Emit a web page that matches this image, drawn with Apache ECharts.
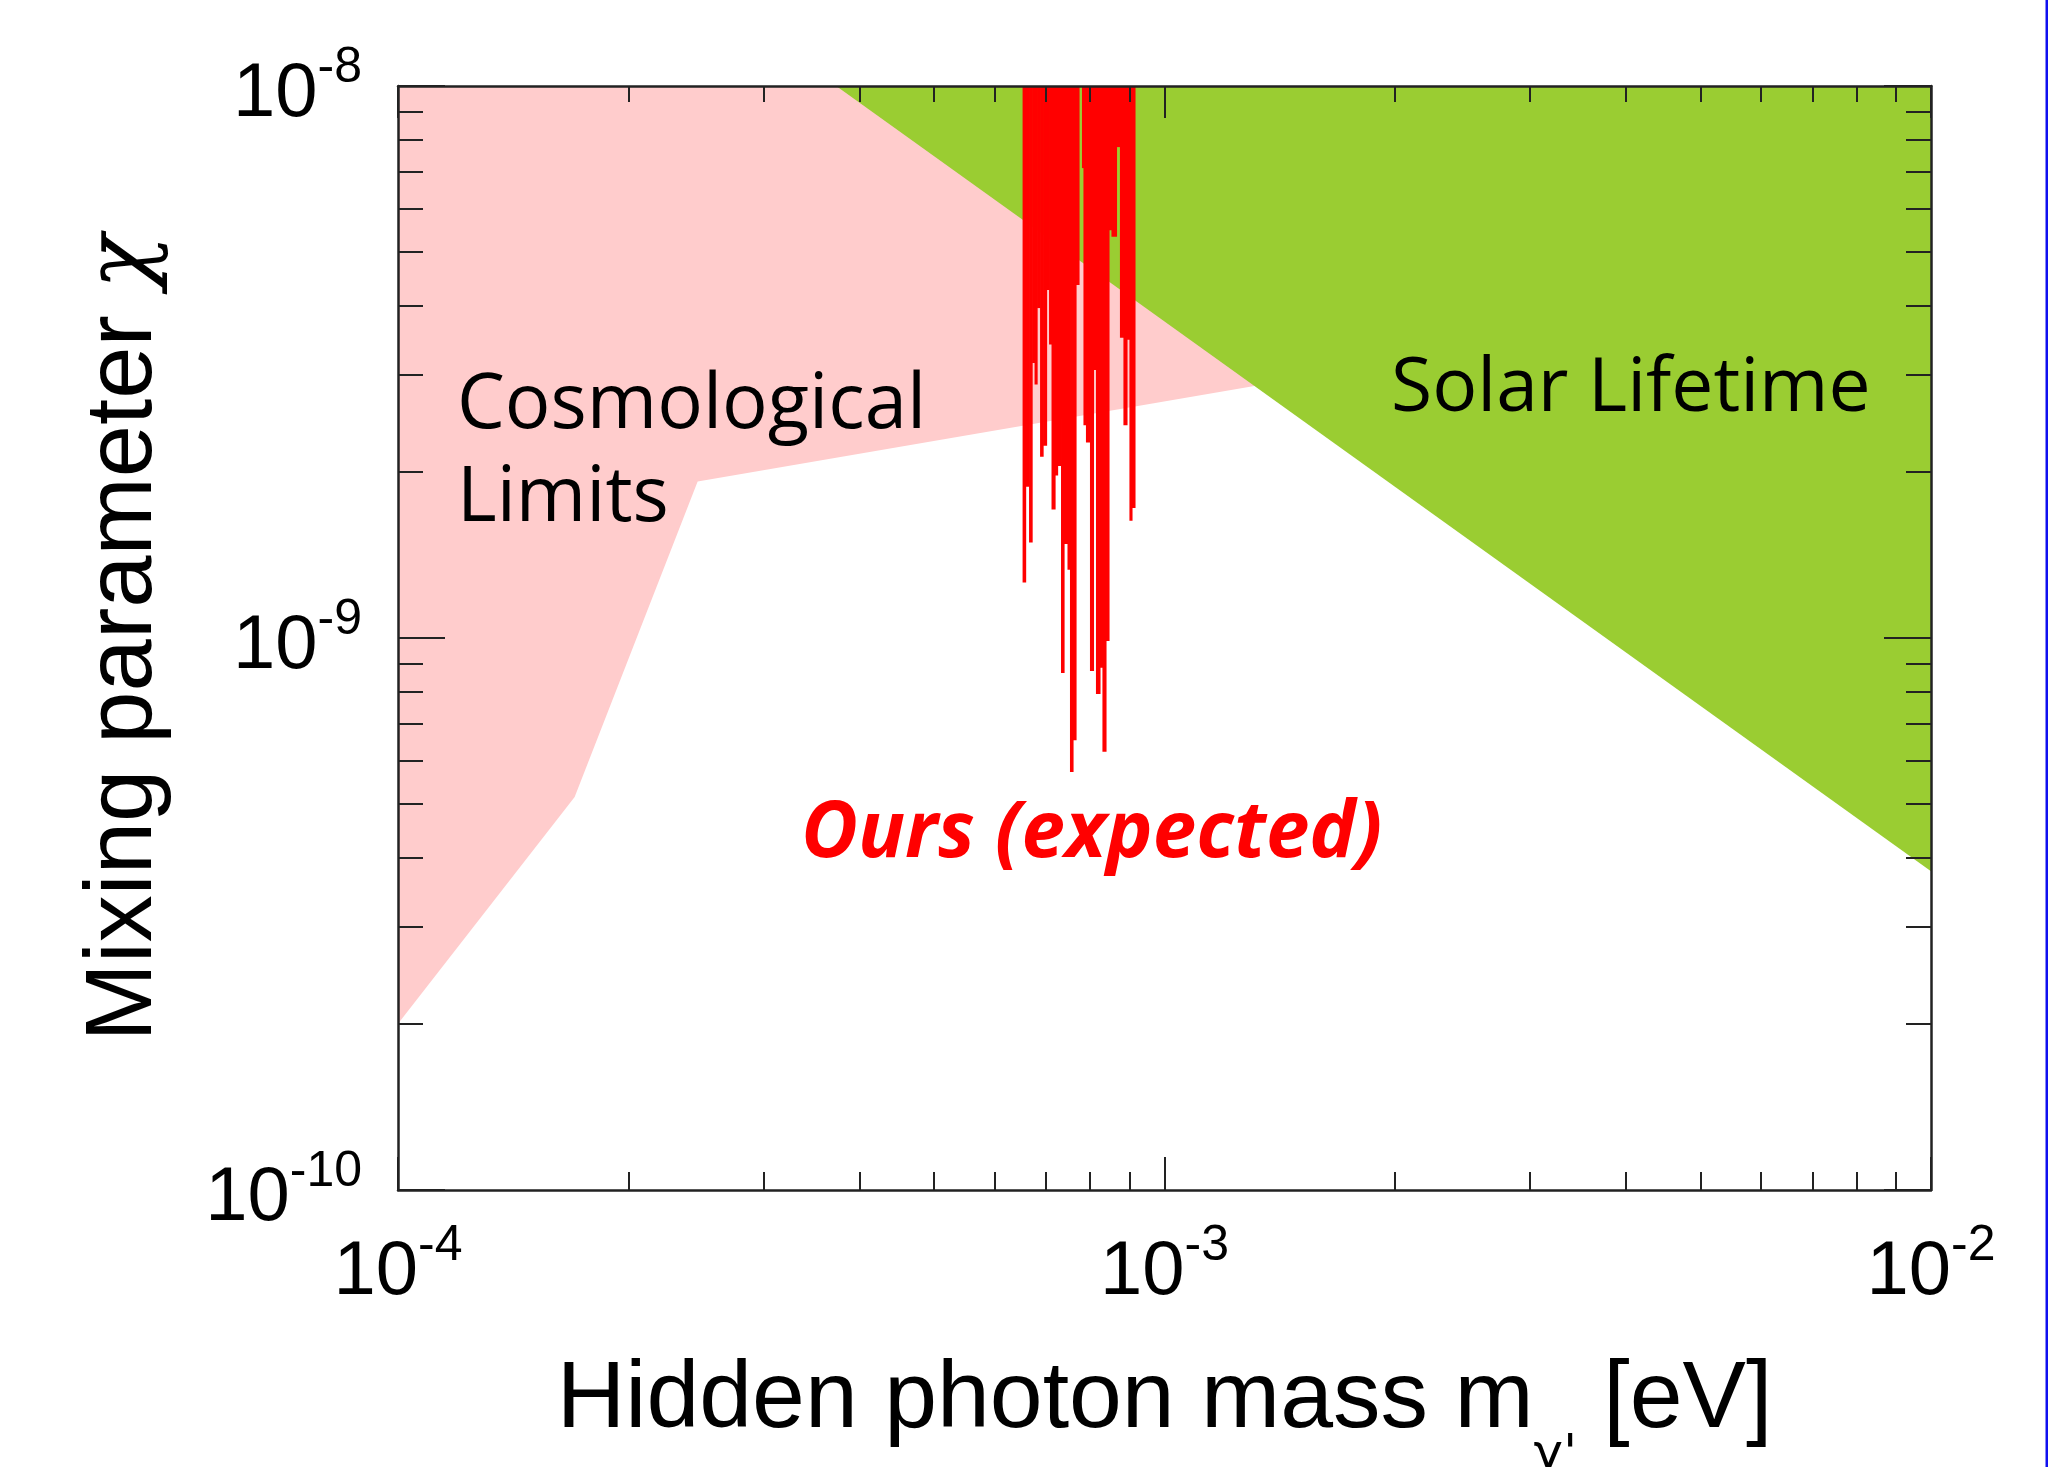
<!DOCTYPE html>
<html>
<head>
<meta charset="utf-8">
<title>Hidden photon mixing limits</title>
<script src="https://cdn.jsdelivr.net/npm/echarts@6/dist/echarts.min.js"></script>
<style>
  html, body { margin: 0; padding: 0; background: #fff; }
  #main { width: 2048px; height: 1467px; }
</style>
</head>
<body>
<div id="main"></div>
<script>
// axis ranges and tick positions
const massRange = [1e-4, 1e-2];
const chiRange = [1e-10, 1e-8];
const massDecades = [1e-4, 1e-3, 1e-2];
const massMinor = [2e-4, 3e-4, 4e-4, 5e-4, 6e-4, 7e-4, 8e-4, 9e-4,
                   2e-3, 3e-3, 4e-3, 5e-3, 6e-3, 7e-3, 8e-3, 9e-3];
const chiDecades = [1e-10, 1e-9, 1e-8];
const chiMinor = [2e-10, 3e-10, 4e-10, 5e-10, 6e-10, 7e-10, 8e-10, 9e-10,
                  2e-9, 3e-9, 4e-9, 5e-9, 6e-9, 7e-9, 8e-9, 9e-9];

// Cosmological limits: lower edge of the excluded region
const cosmoMass = [1e-4, 1.70e-4, 2.46e-4, 1.31e-3];
const cosmoChi = [2.0e-10, 5.15e-10, 1.92e-9, 2.86e-9];

// Solar lifetime: lower edge
const solarMass = [3.73e-4, 1e-2];
const solarChi = [1e-8, 3.78e-10];

// Ours (expected): bin edges [eV] and expected limit per bin
const oursEdges = [6.529e-4, 6.588e-4, 6.657e-4, 6.718e-4, 6.768e-4, 6.819e-4, 6.881e-4, 6.943e-4,
                   7.016e-4, 7.069e-4, 7.122e-4, 7.197e-4, 7.252e-4, 7.328e-4, 7.394e-4, 7.472e-4,
                   7.528e-4, 7.596e-4, 7.665e-4, 7.734e-4, 7.804e-4, 7.839e-4, 7.898e-4, 7.994e-4,
                   8.078e-4, 8.139e-4, 8.237e-4, 8.299e-4, 8.387e-4, 8.463e-4, 8.527e-4, 8.656e-4,
                   8.747e-4, 8.839e-4, 8.933e-4, 9.000e-4, 9.068e-4, 9.150e-4];
const oursChi = [1.26e-9, 1.88e-9, 1.49e-9, 3.15e-9, 2.88e-9, 3.96e-9, 2.13e-9, 2.23e-9,
                 4.27e-9, 3.40e-9, 1.71e-9, 1.97e-9, 2.05e-9, 8.64e-10, 1.48e-9, 1.33e-9,
                 5.72e-10, 6.53e-10, 4.36e-9, 1e-8, 7.10e-9, 2.43e-9, 2.26e-9, 8.71e-10,
                 3.06e-9, 7.92e-10, 8.83e-10, 6.22e-10, 9.88e-10, 5.48e-9, 5.33e-9, 7.75e-9,
                 3.50e-9, 2.43e-9, 3.47e-9, 1.63e-9, 1.72e-9];

const axisFont = 'Liberation Sans';
const greekFont = 'DejaVu Sans';
const noteFont = '"Open Sans"';

const powRich = {
    b: { fontSize: 76, fontFamily: axisFont, color: '#000' },
    s: { fontSize: 50, fontFamily: axisFont, color: '#000', padding: [0, 0, 54, 0] }
};
function powLabel(v) {
    return '{b|10}{s|' + Math.round(Math.log10(v)) + '}';
}

// one log axis, ticks only unless extra says otherwise
function logAxis(range, position, ticks, tickLen, extra) {
    return Object.assign({
        type: 'log',
        position: position,
        min: range[0],
        max: range[1],
        z: 10,
        axisLine: { show: false, onZero: false },
        axisTick: { inside: true, length: tickLen, customValues: ticks,
                    lineStyle: { color: '#222', width: 2 } },
        axisLabel: { show: false },
        splitLine: { show: false },
        minorTick: { show: false }
    }, extra || {});
}
const frameLine = { show: true, onZero: false, lineStyle: { color: '#222', width: 2.5 } };

let myChart = echarts.init(document.getElementById('main'));
myChart.setOption({
    animation: false,
    backgroundColor: '#fff',
    grid: { left: 398, right: 117, top: 86, bottom: 277, outerBoundsMode: 'none', containLabel: false },
    xAxis: [
        logAxis(massRange, 'bottom', massDecades, 33, {
            axisLine: frameLine,
            axisLabel: { show: true, customValues: massDecades, formatter: powLabel,
                         rich: powRich, margin: 31, color: '#000' },
            name: '{n|Hidden photon mass m}{sub|γ\'}{n| [eV]}',
            nameLocation: 'middle',
            nameGap: 131,
            nameTextStyle: {
                fontFamily: axisFont, fontSize: 95, color: '#000',
                rich: {
                    n: { fontFamily: axisFont, fontSize: 95, color: '#000' },
                    sub: { fontFamily: greekFont, fontSize: 50, color: '#000', padding: [110, 0, 0, 0] }
                }
            }
        }),
        logAxis(massRange, 'bottom', massMinor, 18),
        logAxis(massRange, 'top', massDecades, 32, { axisLine: frameLine }),
        logAxis(massRange, 'top', massMinor, 16)
    ],
    yAxis: [
        logAxis(chiRange, 'left', chiDecades, 47, {
            axisLine: frameLine,
            axisLabel: { show: true, customValues: chiDecades, formatter: powLabel,
                         rich: powRich, margin: 36, color: '#000', padding: [18, 0, 0, 0] },
            name: '{n|Mixing parameter }{chi|χ}',
            nameLocation: 'middle',
            nameGap: 226,
            nameTextStyle: {
                fontFamily: axisFont, fontSize: 94, color: '#000',
                rich: {
                    n: { fontFamily: axisFont, fontSize: 94, color: '#000' },
                    chi: { fontFamily: 'DejaVu Serif', fontStyle: 'italic', fontSize: 90, color: '#000' }
                }
            }
        }),
        logAxis(chiRange, 'left', chiMinor, 25),
        logAxis(chiRange, 'right', chiDecades, 47, { axisLine: frameLine }),
        logAxis(chiRange, 'right', chiMinor, 25)
    ],
    series: [
        {
            name: 'Cosmological Limits',
            type: 'line',
            xAxisIndex: 0, yAxisIndex: 0,
            data: cosmoMass.map((m, i) => [m, cosmoChi[i]]),
            symbol: 'none',
            silent: true,
            lineStyle: { width: 0 },
            areaStyle: { color: '#ffcccc', opacity: 1, origin: 'end' },
            z: 1
        },
        {
            name: 'Solar Lifetime',
            type: 'line',
            xAxisIndex: 0, yAxisIndex: 0,
            data: solarMass.map((m, i) => [m, solarChi[i]]),
            symbol: 'none',
            silent: true,
            lineStyle: { width: 0 },
            areaStyle: { color: '#9acd32', opacity: 1, origin: 'end' },
            z: 2
        },
        {
            name: 'Ours (expected)',
            type: 'custom',
            xAxisIndex: 0, yAxisIndex: 0,
            data: oursChi.map((c, i) => [oursEdges[i], oursEdges[i + 1], c]),
            encode: { x: [0, 1], y: 2 },
            silent: true,
            z: 3,
            renderItem: function (params, api) {
                const topLeft = api.coord([api.value(0), chiRange[1]]);
                const bottomRight = api.coord([api.value(1), api.value(2)]);
                return {
                    type: 'rect',
                    shape: {
                        x: topLeft[0],
                        y: topLeft[1],
                        width: bottomRight[0] - topLeft[0] + 0.6,
                        height: bottomRight[1] - topLeft[1]
                    },
                    style: { fill: '#ff0000' }
                };
            }
        }
    ],
    graphic: [
        {
            type: 'text', left: 457, top: 360, z: 10,
            style: { text: 'Cosmological\nLimits', font: '76px ' + noteFont, fill: '#000', lineHeight: 93 }
        },
        {
            type: 'text', left: 1391, top: 352, z: 10,
            style: { text: 'Solar Lifetime', font: '75px ' + noteFont, fill: '#000' }
        },
        {
            type: 'text', left: 801, top: 796, z: 10,
            style: { text: 'Ours (expected)', font: 'italic bold 78px ' + noteFont, fill: '#ff0000' }
        },
        {
            // slide border on the right
            type: 'rect', z: 10,
            shape: { x: 2045.5, y: 0, width: 2.5, height: 1467 },
            style: { fill: '#1010f0' }
        }
    ]
});
</script>
</body>
</html>
